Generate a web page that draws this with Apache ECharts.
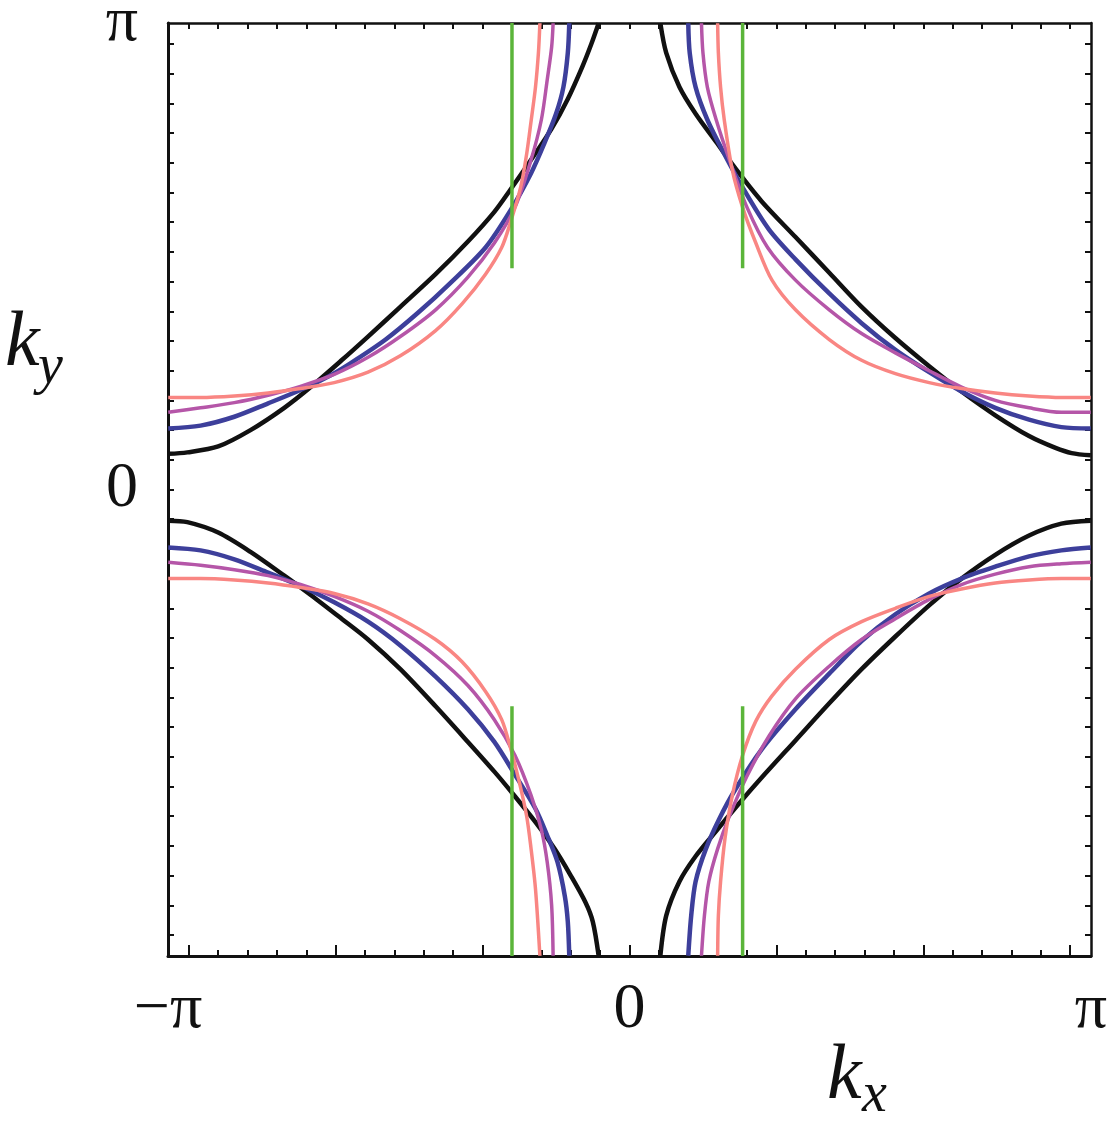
<!DOCTYPE html>
<html>
<head>
<meta charset="utf-8">
<script src="https://cdn.jsdelivr.net/npm/echarts@6/dist/echarts.min.js"></script>
<style>
html,body{margin:0;padding:0;background:#fff;}
#chart{width:1115px;height:1133px;}
</style>
</head>
<body>
<div id="chart"></div>
<script>
// ---- tick labels / tick positions ----
const PI = Math.PI;
const xLabelValues = [-PI, 0, PI];
const xLabelTexts = ['\u2212\u03c0', '0', '\u03c0'];
const yLabelValues = [0, PI];
const yLabelTexts = ['0', '\u03c0'];
const minorTicks = [-3.0,-2.8,-2.6,-2.4,-2.2,-2.0,-1.8,-1.6,-1.4,-1.2,-1.0,-0.8,-0.6,-0.4,-0.2,0,0.2,0.4,0.6,0.8,1.0,1.2,1.4,1.6,1.8,2.0,2.2,2.4,2.6,2.8,3.0];
const majorTicks = [-3, -2, -1, 0, 1, 2, 3];

// ---- curves: [kx, ky] ----
const blackTL = [[-3.14,0.24],[-3.01,0.25],[-2.80,0.29],[-2.58,0.40],[-2.35,0.55],[-2.17,0.69],[-1.96,0.87],[-1.78,1.03],[-1.56,1.23],[-1.32,1.45],[-1.10,1.67],[-0.92,1.87],[-0.81,2.02],[-0.67,2.22],[-0.53,2.43],[-0.42,2.63],[-0.32,2.85],[-0.26,3.00],[-0.21,3.14]];
const blueTL = [[-3.14,0.41],[-2.92,0.43],[-2.69,0.49],[-2.46,0.58],[-2.24,0.67],[-2.07,0.75],[-1.90,0.85],[-1.66,1.01],[-1.44,1.19],[-1.22,1.39],[-0.98,1.63],[-0.81,1.88],[-0.67,2.13],[-0.58,2.33],[-0.50,2.53],[-0.45,2.71],[-0.42,2.94],[-0.41,3.14]];
const purpleTL = [[-3.14,0.52],[-2.92,0.55],[-2.69,0.585],[-2.46,0.635],[-2.24,0.695],[-2.01,0.775],[-1.78,0.89],[-1.56,1.03],[-1.32,1.21],[-1.10,1.43],[-0.92,1.66],[-0.78,1.90],[-0.67,2.22],[-0.60,2.49],[-0.56,2.76],[-0.53,2.98],[-0.52,3.14]];
const pinkTL = [[-3.14,0.62],[-2.92,0.62],[-2.69,0.63],[-2.46,0.65],[-2.24,0.68],[-2.01,0.72],[-1.78,0.79],[-1.56,0.90],[-1.32,1.07],[-1.14,1.25],[-0.98,1.45],[-0.87,1.63],[-0.81,1.80],[-0.74,2.04],[-0.70,2.26],[-0.67,2.48],[-0.64,2.71],[-0.62,2.94],[-0.61,3.14]];

const blackTR = [[0.21,3.14],[0.25,2.94],[0.34,2.71],[0.45,2.53],[0.59,2.34],[0.73,2.15],[0.90,1.94],[1.13,1.70],[1.36,1.46],[1.58,1.23],[1.81,1.02],[2.04,0.83],[2.26,0.66],[2.49,0.50],[2.72,0.36],[2.90,0.28],[3.01,0.245],[3.14,0.23]];
const blueTR = [[0.40,3.14],[0.41,2.94],[0.45,2.71],[0.53,2.49],[0.64,2.27],[0.79,2.00],[0.95,1.75],[1.13,1.55],[1.36,1.32],[1.58,1.12],[1.81,0.94],[2.04,0.79],[2.26,0.66],[2.49,0.55],[2.72,0.47],[2.94,0.42],[3.14,0.41]];
const purpleTR = [[0.49,3.14],[0.50,2.94],[0.53,2.71],[0.59,2.49],[0.68,2.22],[0.80,1.90],[0.94,1.63],[1.13,1.41],[1.36,1.21],[1.58,1.05],[1.81,0.92],[2.04,0.80],[2.26,0.69],[2.49,0.60],[2.72,0.55],[2.94,0.52],[3.14,0.52]];
const pinkTR = [[0.60,3.14],[0.605,2.94],[0.62,2.71],[0.645,2.49],[0.70,2.15],[0.77,1.90],[0.86,1.66],[0.97,1.41],[1.13,1.21],[1.36,1.01],[1.58,0.87],[1.81,0.78],[2.04,0.72],[2.26,0.68],[2.49,0.65],[2.72,0.63],[2.94,0.62],[3.14,0.62]];

const blackBL = [[-3.14,-0.21],[-3.01,-0.22],[-2.80,-0.29],[-2.58,-0.42],[-2.35,-0.58],[-2.17,-0.71],[-1.96,-0.87],[-1.78,-1.01],[-1.56,-1.21],[-1.32,-1.46],[-1.10,-1.70],[-0.92,-1.90],[-0.81,-2.03],[-0.64,-2.24],[-0.51,-2.42],[-0.40,-2.60],[-0.30,-2.78],[-0.25,-2.91],[-0.21,-3.14]];
const blueBL = [[-3.14,-0.39],[-2.92,-0.41],[-2.69,-0.47],[-2.46,-0.56],[-2.24,-0.65],[-2.01,-0.76],[-1.78,-0.89],[-1.56,-1.05],[-1.32,-1.26],[-1.10,-1.48],[-0.92,-1.70],[-0.78,-1.92],[-0.64,-2.15],[-0.56,-2.33],[-0.49,-2.51],[-0.44,-2.74],[-0.42,-2.91],[-0.41,-3.14]];
const purpleBL = [[-3.14,-0.49],[-2.92,-0.51],[-2.69,-0.54],[-2.46,-0.58],[-2.24,-0.64],[-2.01,-0.72],[-1.78,-0.82],[-1.56,-0.95],[-1.32,-1.12],[-1.10,-1.32],[-0.92,-1.55],[-0.78,-1.79],[-0.67,-2.06],[-0.60,-2.29],[-0.56,-2.51],[-0.53,-2.80],[-0.52,-3.14]];
const pinkBL = [[-3.14,-0.60],[-2.92,-0.60],[-2.69,-0.61],[-2.46,-0.63],[-2.24,-0.66],[-2.01,-0.70],[-1.78,-0.77],[-1.56,-0.87],[-1.32,-1.01],[-1.14,-1.16],[-0.98,-1.36],[-0.87,-1.55],[-0.81,-1.74],[-0.75,-1.97],[-0.70,-2.20],[-0.67,-2.42],[-0.64,-2.69],[-0.61,-3.14]];

const blackBR = [[0.21,-3.14],[0.25,-2.87],[0.34,-2.64],[0.45,-2.47],[0.59,-2.30],[0.75,-2.11],[0.90,-1.94],[1.13,-1.69],[1.36,-1.44],[1.58,-1.21],[1.81,-0.99],[2.04,-0.78],[2.26,-0.60],[2.49,-0.44],[2.72,-0.31],[2.94,-0.23],[3.14,-0.21]];
const blueBR = [[0.40,-3.14],[0.42,-2.87],[0.45,-2.64],[0.52,-2.42],[0.61,-2.22],[0.72,-2.02],[0.90,-1.75],[1.13,-1.48],[1.36,-1.24],[1.58,-1.02],[1.81,-0.84],[2.04,-0.70],[2.26,-0.60],[2.49,-0.52],[2.72,-0.45],[2.94,-0.41],[3.14,-0.39]];
const purpleBR = [[0.49,-3.14],[0.51,-2.87],[0.54,-2.64],[0.60,-2.42],[0.68,-2.20],[0.80,-1.93],[0.95,-1.66],[1.13,-1.41],[1.36,-1.19],[1.58,-1.01],[1.81,-0.87],[2.04,-0.74],[2.26,-0.64],[2.49,-0.57],[2.72,-0.52],[2.94,-0.50],[3.14,-0.49]];
const pinkBR = [[0.60,-3.14],[0.605,-2.87],[0.62,-2.64],[0.65,-2.35],[0.70,-2.06],[0.77,-1.79],[0.86,-1.56],[0.97,-1.39],[1.13,-1.21],[1.36,-1.01],[1.58,-0.89],[1.81,-0.80],[2.04,-0.72],[2.26,-0.67],[2.49,-0.63],[2.72,-0.61],[2.94,-0.60],[3.14,-0.60]];

const greenTL = [[-0.80,3.1416],[-0.80,1.49]];
const greenTR = [[0.77,3.1416],[0.77,1.49]];
const greenBL = [[-0.80,-1.46],[-0.80,-3.1416]];
const greenBR = [[0.77,-1.46],[0.77,-3.1416]];

// ---- styles ----
const colBlack = '#111111', colBlue = '#3d3f9b', colPurple = '#b556a8', colPink = '#f98683', colGreen = '#5bb53a';

function line(data, color, width, smooth) {
  return {
    type: 'line', data: data, xAxisIndex: 0, yAxisIndex: 0,
    showSymbol: false, symbol: 'none', smooth: smooth, silent: true,
    lineStyle: { color: color, width: width, cap: 'butt', join: 'round' },
    clip: true, animation: false
  };
}

const series = [];
[blackTL, blackTR, blackBL, blackBR].forEach(d => series.push(line(d, colBlack, 4.5, 0.3)));
[blueTL, blueTR, blueBL, blueBR].forEach(d => series.push(line(d, colBlue, 4.5, 0.3)));
[purpleTL, purpleTR, purpleBL, purpleBR].forEach(d => series.push(line(d, colPurple, 3.5, 0.3)));
[pinkTL, pinkTR, pinkBL, pinkBR].forEach(d => series.push(line(d, colPink, 3.5, 0.3)));
[greenTL, greenTR, greenBL, greenBR].forEach(d => series.push(line(d, colGreen, 3.5, false)));

const FONT = '"Liberation Serif", "Times New Roman", serif';

function axisBase(extra) {
  return Object.assign({
    type: 'value', min: -PI, max: PI,
    splitLine: { show: false },
    axisLine: { show: true, onZero: false, lineStyle: { color: '#111', width: 3 } },
    axisTick: { show: false },
    axisLabel: { show: false }
  }, extra);
}

const option = {
  animation: false,
  backgroundColor: '#ffffff',
  grid: { left: 168, right: 24, top: 23, bottom: 177, containLabel: false, outerBoundsMode: 'none' },
  xAxis: [
    axisBase({
      position: 'bottom',
      axisTick: { show: true, inside: true, length: 6, customValues: minorTicks, lineStyle: { color: '#111', width: 2 } },
      axisLabel: {
        show: true, customValues: xLabelValues, margin: 22,
        formatter: v => xLabelTexts[xLabelValues.findIndex(t => Math.abs(t - v) < 1e-6)],
        color: '#111', fontFamily: FONT, fontSize: 64
      }
    }),
    axisBase({
      position: 'bottom',
      axisLine: { show: false, onZero: false },
      axisTick: { show: true, inside: true, length: 11, customValues: majorTicks, lineStyle: { color: '#111', width: 2 } }
    }),
    axisBase({
      position: 'top',
      axisLine: { show: true, onZero: false, lineStyle: { color: '#111', width: 2.5 } },
      axisTick: { show: true, inside: true, length: 6, customValues: minorTicks, lineStyle: { color: '#111', width: 2 } }
    })
  ],
  yAxis: [
    axisBase({
      position: 'left',
      axisTick: { show: true, inside: true, length: 6, customValues: minorTicks, lineStyle: { color: '#111', width: 2 } },
      axisLabel: {
        show: true, customValues: yLabelValues, margin: 30,
        formatter: v => yLabelTexts[yLabelValues.findIndex(t => Math.abs(t - v) < 1e-6)],
        color: '#111', fontFamily: FONT, fontSize: 64
      }
    }),
    axisBase({
      position: 'right',
      axisLine: { show: true, onZero: false, lineStyle: { color: '#111', width: 2.5 } },
      axisTick: { show: true, inside: true, length: 6, customValues: minorTicks, lineStyle: { color: '#111', width: 2 } }
    })
  ],
  graphic: [
    { type: 'text', style: { x: 827, y: 1116, text: 'k', textAlign: 'left', textVerticalAlign: 'bottom', font: 'italic 78px ' + FONT, fill: '#111' } },
    { type: 'text', style: { x: 862, y: 1124, text: 'x', textAlign: 'left', textVerticalAlign: 'bottom', font: 'italic 56px ' + FONT, fill: '#111' } },
    { type: 'text', style: { x: 5, y: 383, text: 'k', textAlign: 'left', textVerticalAlign: 'bottom', font: 'italic 78px ' + FONT, fill: '#111' } },
    { type: 'text', style: { x: 38, y: 396, text: 'y', textAlign: 'left', textVerticalAlign: 'bottom', font: 'italic 56px ' + FONT, fill: '#111' } }
  ],
  series: series
};

const chart = echarts.init(document.getElementById('chart'), null, { renderer: 'canvas' });
chart.setOption(option);
</script>
</body>
</html>
